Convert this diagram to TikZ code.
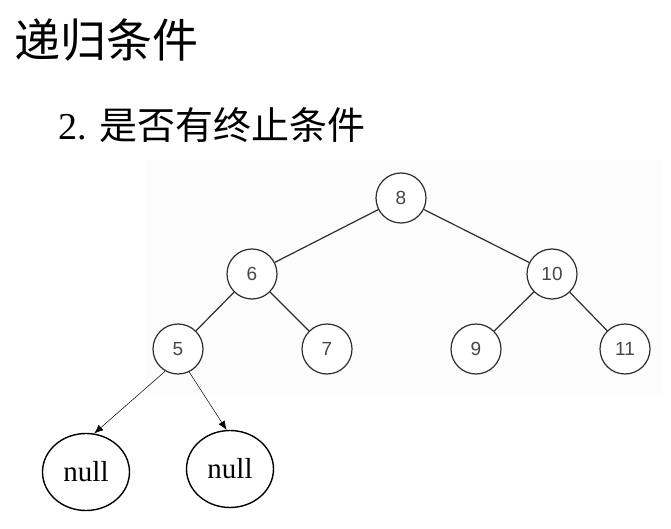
\documentclass[tikz,border=0pt]{standalone}
\usepackage{fontspec}
\setmainfont{Liberation Serif}
\setsansfont{Liberation Sans}
\newfontfamily\cjk{Noto Sans CJK SC}
\usetikzlibrary{arrows.meta,shapes.geometric}
\definecolor{TreeInk}{RGB}{45,45,45}
\definecolor{TreeText}{RGB}{70,70,70}
\definecolor{TreeBack}{RGB}{252,252,252}
\tikzset{
  bt/key/.style={
    circle,
    draw=TreeInk,
    line width=1.2pt,
    fill=white,
    minimum size=50pt,
    inner sep=0pt,
    text=TreeText,
    font=\sffamily\fontsize{19}{21}\selectfont
  },
  bt/null/.style={
    ellipse,
    draw=black,
    line width=1.4pt,
    fill=white,
    minimum width=87pt,
    minimum height=77pt,
    inner sep=0pt,
    font=\rmfamily\fontsize{29}{32}\selectfont
  },
  bt/edge/.style={line width=1.2pt, draw=TreeInk},
  bt/arrow/.style={-{Latex[length=9pt,width=7pt]}, line width=0.5pt, draw=black},
  bt/title/.style={anchor=west, inner sep=0pt, font=\cjk\fontsize{46}{50}\selectfont},
  bt/subtitle/.style={anchor=west, inner sep=0pt, font=\fontsize{38}{42}\selectfont}
}
\begin{document}
\begin{tikzpicture}[x=1pt,y=-1pt]
  \useasboundingbox[fill=white] (0,0) rectangle (671,529);
  \fill[TreeBack] (145,160) rectangle (662,395);
  % titles
  \node[bt/title] (title) at (14,40) {递归条件};
  \node[bt/subtitle] (sub) at (58,125) {2. {\cjk 是否有终止条件}};
  % binary tree
  \node[bt/key] (n8) at (401,198) {8};
  \node[bt/key] (n6) at (252,274) {6};
  \node[bt/key] (n10) at (552,274) {10};
  \node[bt/key] (n5) at (178,349) {5};
  \node[bt/key] (n7) at (327,349) {7};
  \node[bt/key] (n9) at (476,349) {9};
  \node[bt/key] (n11) at (625,349) {11};
  \draw[bt/edge] (n8) -- (n6);
  \draw[bt/edge] (n8) -- (n10);
  \draw[bt/edge] (n6) -- (n5);
  \draw[bt/edge] (n6) -- (n7);
  \draw[bt/edge] (n10) -- (n9);
  \draw[bt/edge] (n10) -- (n11);
  % null children
  \node[bt/null] (nullL) at (86,472) {null};
  \node[bt/null] (nullR) at (230,469) {null};
  \draw[bt/arrow] (n5.240) -- (nullL.78);
  \draw[bt/arrow] (n5.296) -- (nullR.95);
\end{tikzpicture}
\end{document}
